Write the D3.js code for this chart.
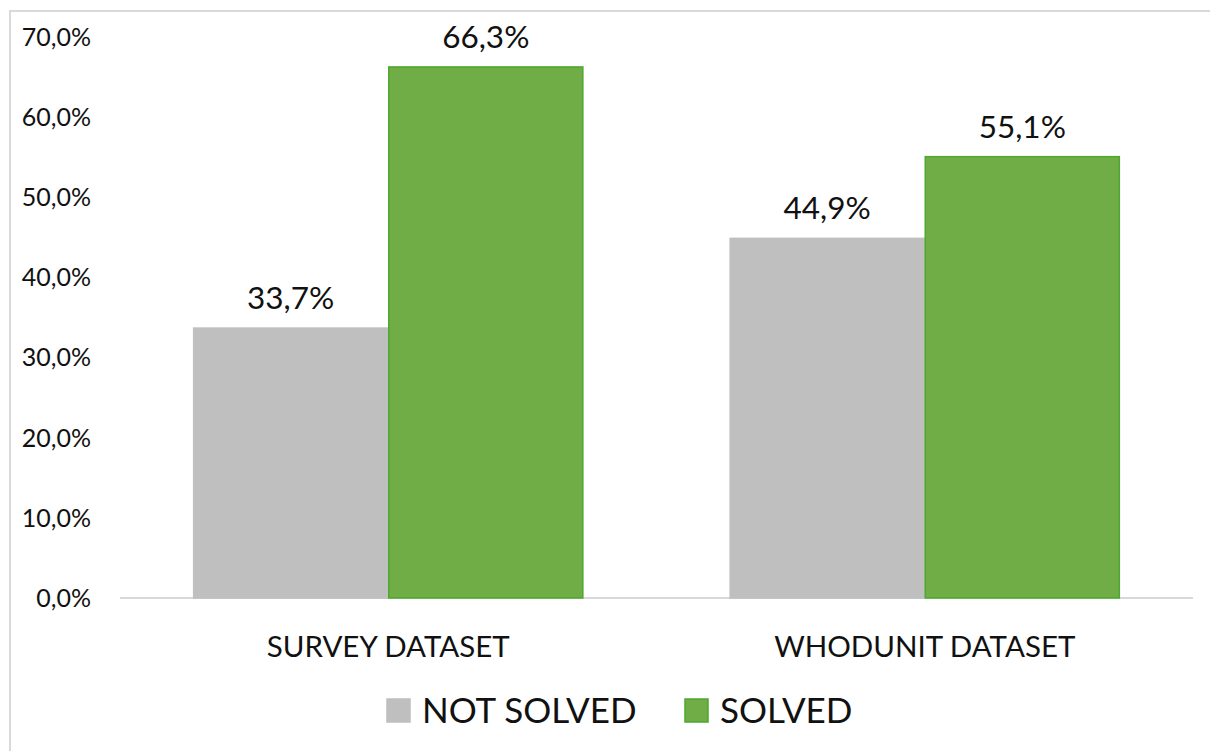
<!DOCTYPE html>
<html><head><meta charset="utf-8">
<script src="https://cdn.jsdelivr.net/npm/d3@7"></script>
<style>html,body{margin:0;padding:0;background:#fff;overflow:hidden;} svg{display:block;overflow:hidden;font-family:Lato,"Open Sans",sans-serif;}</style>
</head><body>
<script>
const categories = ["SURVEY DATASET", "WHODUNIT DATASET"];
const seriesNames = ["NOT SOLVED", "SOLVED"];
const notSolved = [33.7, 44.9];
const solved = [66.3, 55.1];
const yTicks = [0, 10, 20, 30, 40, 50, 60, 70];
const colors = ["#BFBFBF", "#70AD47"];
const strokes = ["#BFBFBF", "#4EA72E"];

const W = 1210, H = 751;
const svg = d3.select("body").append("svg").attr("width", W).attr("height", H);
svg.append("path").attr("d", `M10,${H} V11 H${W}`)
  .attr("fill", "none").attr("stroke", "#D9D9D9").attr("stroke-width", 2);

const plot = {left: 120, right: 1193, top: 37.3, bottom: 598};
const x0 = d3.scaleBand().domain(categories).range([plot.left, plot.right]).paddingInner(0).paddingOuter(0);
const groupW = x0.bandwidth() * (2 / 2.75);
const x1 = d3.scaleBand().domain(seriesNames).range([0, groupW]).padding(0);
const y = d3.scaleLinear().domain([0, 70]).range([plot.bottom, plot.top]);

const fmt = v => v.toFixed(1).replace(".", ",") + "%";

// y tick labels
svg.append("g").selectAll("text").data(yTicks).join("text")
  .attr("x", 91).attr("y", d => y(d)).attr("dy", "0.35em")
  .attr("text-anchor", "end").attr("font-size", 25).attr("fill", "#111")
  .text(d => fmt(d));

// baseline
svg.append("line").attr("x1", plot.left).attr("x2", plot.right)
  .attr("y1", y(0)).attr("y2", y(0)).attr("stroke", "#D9D9D9").attr("stroke-width", 2);

const data = categories.map((c, i) => ({cat: c, vals: [notSolved[i], solved[i]]}));

const groups = svg.append("g").selectAll("g").data(data).join("g")
  .attr("transform", d => `translate(${x0(d.cat) + (x0.bandwidth() - groupW) / 2},0)`);

groups.selectAll("rect").data(d => d.vals.map((v, j) => ({v, j}))).join("rect")
  .attr("x", d => x1(seriesNames[d.j]) + 0.5)
  .attr("width", x1.bandwidth() - 1)
  .attr("y", d => y(d.v))
  .attr("height", d => y(0) - y(d.v))
  .attr("fill", d => colors[d.j])
  .attr("stroke", d => strokes[d.j]).attr("stroke-width", 1.5);

groups.selectAll("text.lbl").data(d => d.vals.map((v, j) => ({v, j}))).join("text")
  .attr("class", "lbl")
  .attr("x", d => x1(seriesNames[d.j]) + x1.bandwidth() / 2)
  .attr("y", d => y(d.v) - 19)
  .attr("text-anchor", "middle").attr("font-size", 31.5).attr("fill", "#111")
  .text(d => fmt(d.v));

// category labels
svg.append("g").selectAll("text").data(categories).join("text")
  .attr("x", d => x0(d) + x0.bandwidth() / 2).attr("y", 657)
  .attr("text-anchor", "middle").attr("font-size", 29.5).attr("fill", "#111")
  .text(d => d);

// legend
const legendX = [387, 685];
const lg = svg.append("g").selectAll("g").data(seriesNames).join("g")
  .attr("transform", (d, i) => `translate(${legendX[i]},699)`);
lg.append("rect").attr("width", 23).attr("height", 23)
  .attr("fill", (d, i) => colors[i]).attr("stroke", (d, i) => strokes[i]).attr("stroke-width", 1.5);
lg.append("text").attr("x", 35).attr("y", 24).attr("font-size", 35).attr("fill", "#111").text(d => d);
</script>
</body></html>
